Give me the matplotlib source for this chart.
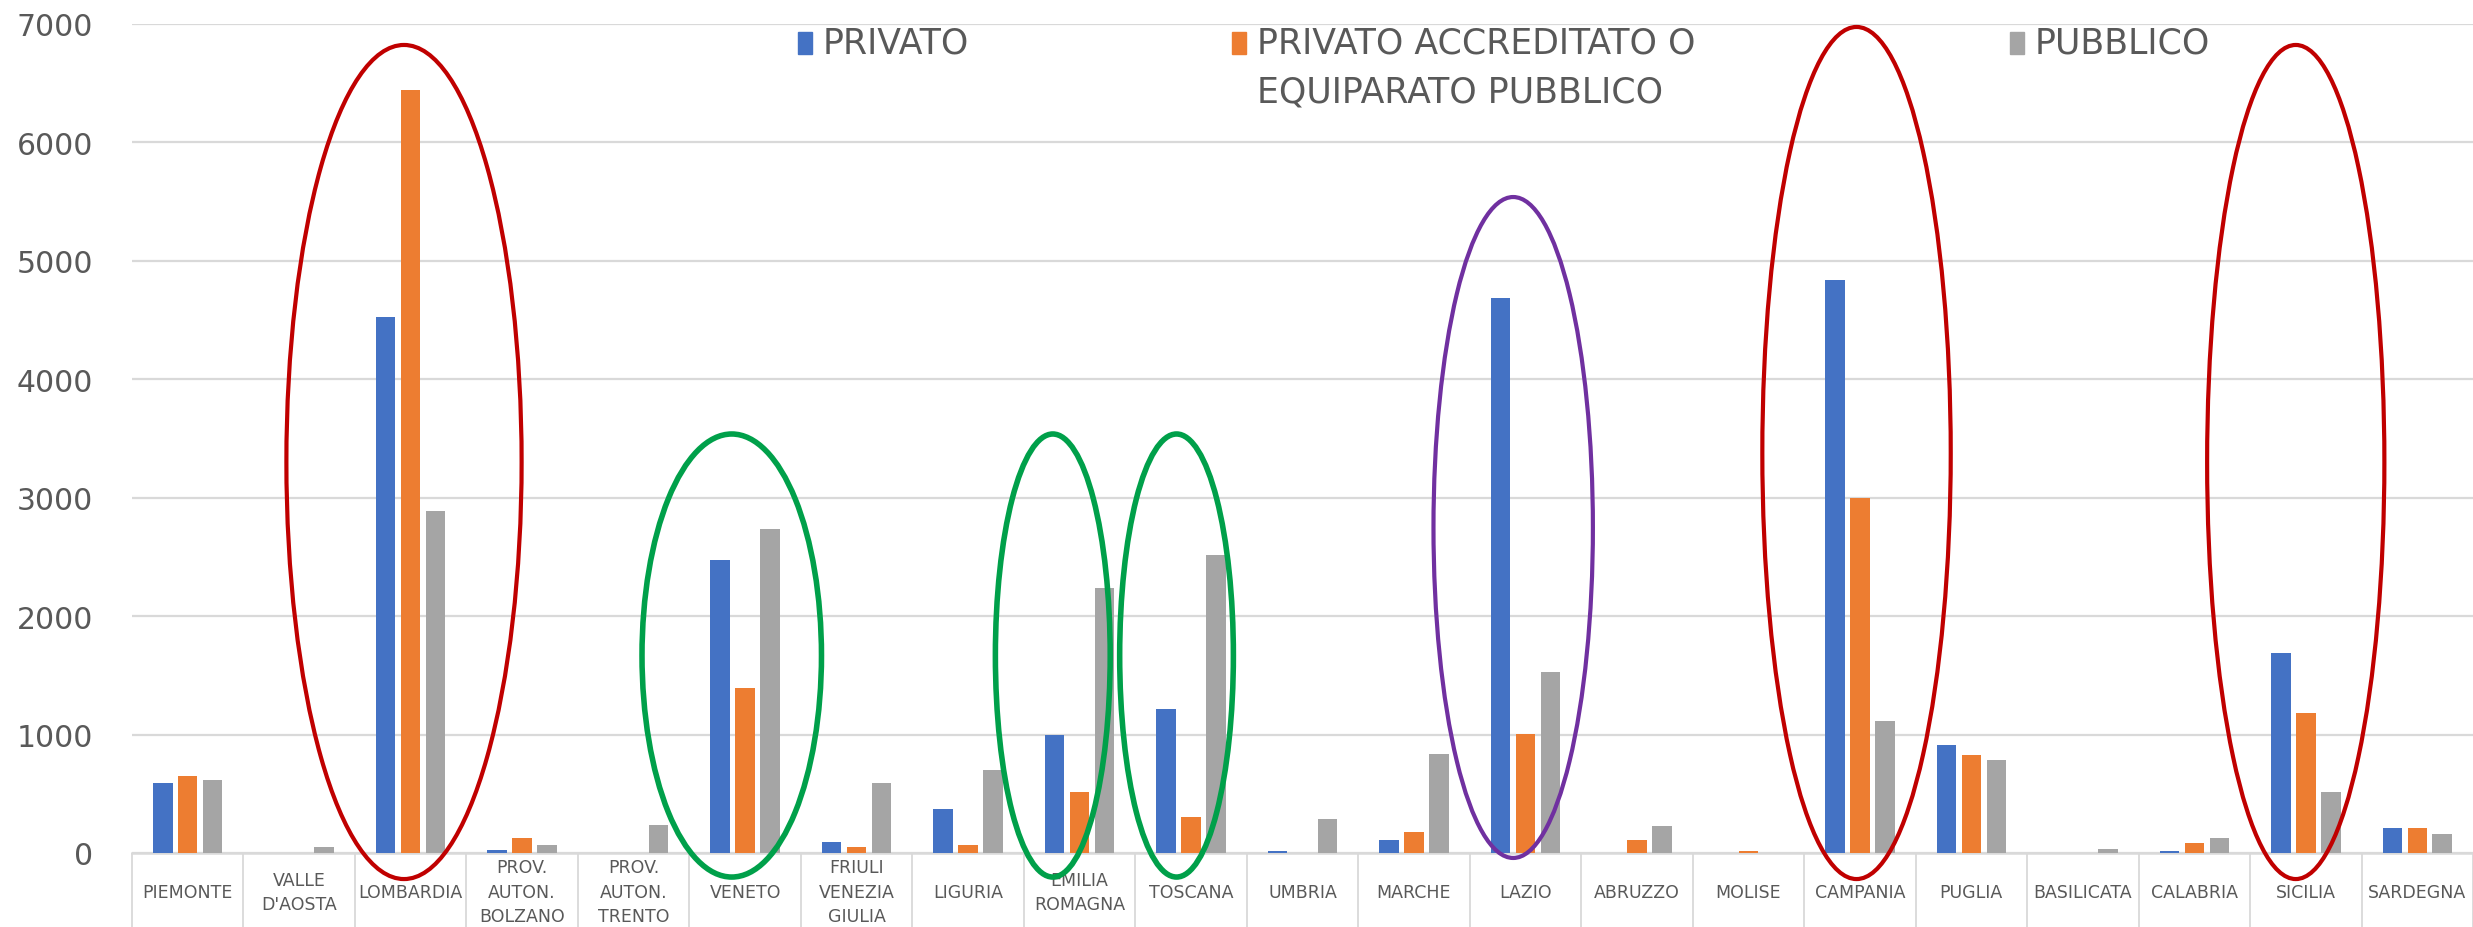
import numpy as np
import matplotlib
matplotlib.use('Agg')
import matplotlib.pyplot as plt
from matplotlib.patches import Ellipse, Rectangle

# regions (x axis)
regioni = ['PIEMONTE', "VALLE\nD'AOSTA", 'LOMBARDIA', 'PROV.\nAUTON.\nBOLZANO',
           'PROV.\nAUTON.\nTRENTO', 'VENETO', 'FRIULI\nVENEZIA\nGIULIA', 'LIGURIA',
           'EMILIA\nROMAGNA', 'TOSCANA', 'UMBRIA', 'MARCHE', 'LAZIO', 'ABRUZZO',
           'MOLISE', 'CAMPANIA', 'PUGLIA', 'BASILICATA', 'CALABRIA', 'SICILIA',
           'SARDEGNA']
privato = [594, 0, 4522, 28, 0, 2476, 96, 369, 994, 1214, 14, 107, 4690, 0, 0,
           4837, 915, 0, 14, 1687, 208]
accreditato = [654, 0, 6439, 130, 0, 1392, 48, 70, 515, 301, 0, 175, 1006, 107, 14,
               2995, 825, 0, 82, 1186, 208]
pubblico = [620, 48, 2885, 70, 240, 2738, 594, 699, 2237, 2513, 290, 834, 1527, 231, 0,
            1118, 789, 37, 130, 515, 163]
serie_nomi = ['PRIVATO', 'PRIVATO ACCREDITATO O\nEQUIPARATO PUBBLICO', 'PUBBLICO']
colori = ['#4472C4', '#ED7D31', '#A5A5A5']

# highlighted groups: (region index, colour)
cerchi = [(2, '#C00000'), (5, '#00A04A'), (8, '#00A04A'), (9, '#00A04A'),
          (12, '#7030A0'), (15, '#C00000'), (19, '#C00000')]

W, H = 2473, 928
fig = plt.figure(figsize=(W / 100, H / 100), dpi=100)
ax = fig.add_axes([132 / W, 1 - 854 / H, (W - 132) / W, (854 - 25) / H])

x = np.arange(len(regioni))
off = 0.224
bw = 0.175
for k, (vals, col) in enumerate(zip([privato, accreditato, pubblico], colori)):
    ax.bar(x + (k - 1) * off, vals, width=bw, color=col, zorder=3)

ax.set_xlim(-0.5, -0.5 + (W - 132) / 111.6)
ax.set_ylim(0, 7000)
ax.set_yticks(np.arange(0, 7001, 1000))
ax.yaxis.grid(True, color='#d9d9d9', lw=1.6)
ax.set_axisbelow(True)
ax.tick_params(axis='y', length=0, pad=28, labelsize=21.5, labelcolor='#595959')

for s in ['top', 'right', 'left']:
    ax.spines[s].set_visible(False)
ax.spines['bottom'].set_color('#d9d9d9')
ax.spines['bottom'].set_linewidth(1.8)

ax.set_xticks(x)
ax.set_xticklabels(regioni)
ax.set_xticks(np.arange(-0.5, len(regioni), 1), minor=True)
ax.tick_params(axis='x', which='major', length=0, pad=28, labelsize=12.5,
               labelcolor='#595959')
ax.tick_params(axis='x', which='minor', length=60, width=1.3, color='#d9d9d9')
for lbl in ax.get_xticklabels():
    lbl.set_va('center')
    lbl.set_linespacing(1.47)

# ellipses around the highlighted groups
forme = {2: (-0.06, 2.11, -220, 6823), 5: (-0.12, 1.61, -203, 3538),
         8: (-0.24, 1.03, -203, 3538), 9: (-0.13, 1.02, -203, 3538),
         12: (-0.11, 1.43, -42, 5539), 15: (-0.03, 1.69, -220, 6975),
         19: (-0.09, 1.59, -220, 6823)}
for idx, col in cerchi:
    dx, wd, y0, y1 = forme[idx]
    lw = 4.0 if col == '#00A04A' else 3.0
    e = Ellipse((idx + dx, (y0 + y1) / 2), wd, y1 - y0, fill=False,
                edgecolor=col, lw=lw, zorder=6, clip_on=False)
    ax.add_patch(e)

# legend drawn by hand (Excel style, top of plot)
leg_x = [798, 1232, 2010]
for nome, col, lx in zip(serie_nomi, colori, leg_x):
    fig.patches.append(Rectangle((lx / W, 1 - 55 / H), 14 / W, 22 / H,
                                 transform=fig.transFigure, color=col,
                                 figure=fig))
    fig.text((lx + 25) / W, 1 - 27 / H, nome, fontsize=25, color='#595959',
             va='top', ha='left', linespacing=1.55,
             transform=fig.transFigure)

fig.savefig('out.png', dpi=100, facecolor='white')
